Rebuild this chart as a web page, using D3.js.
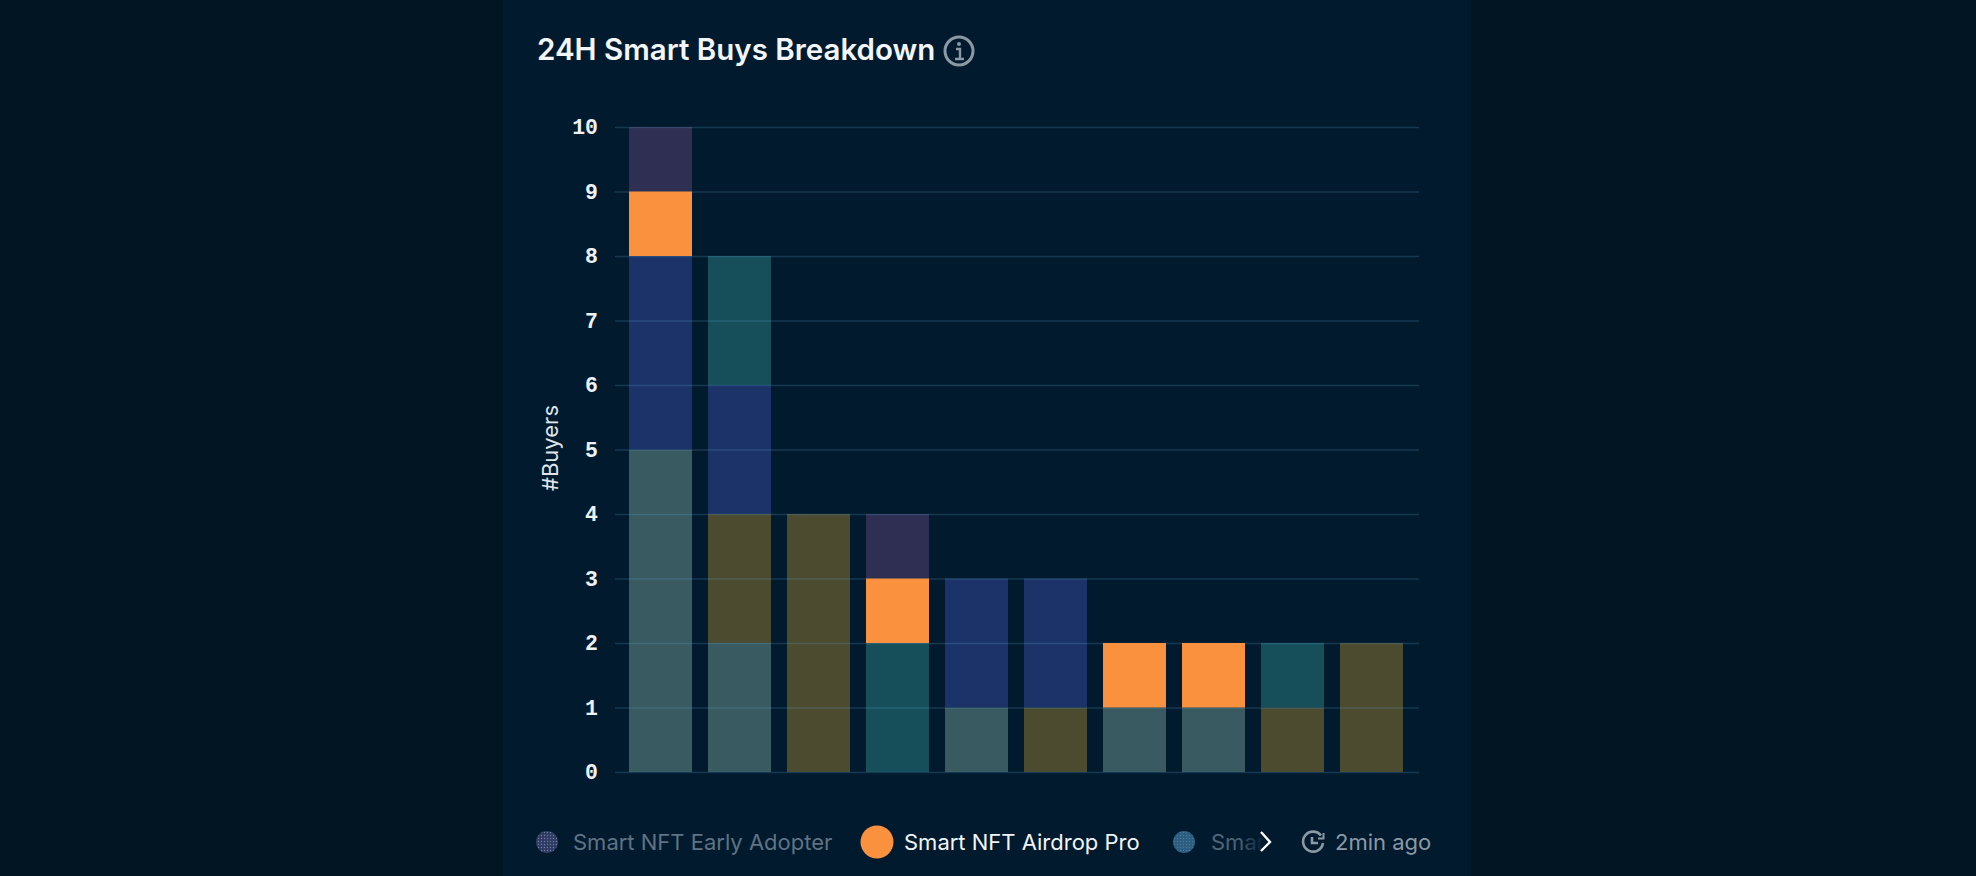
<!DOCTYPE html>
<html>
<head>
<meta charset="utf-8">
<script src="https://cdn.jsdelivr.net/npm/d3@7"></script>
<style>
    html, body { margin: 0; padding: 0; background: #011522; overflow: hidden; }
    svg { display: block; }
    text { font-family: Inter, sans-serif; }
</style>
</head>
<body>
<div id="chart"></div>
<script>
// one column per bar, the reference shows no x labels
const buckets = ["1", "2", "3", "4", "5", "6", "7", "8", "9", "10"];
const seriesKeys = ["grey", "olive", "navy", "teal", "orange", "purple"];

const greyValues   = [5, 2, 0, 0, 1, 0, 1, 1, 0, 0];
const oliveValues  = [0, 2, 4, 0, 0, 1, 0, 0, 1, 2];
const navyValues   = [3, 2, 0, 0, 2, 2, 0, 0, 0, 0];
const tealValues   = [0, 2, 0, 2, 0, 0, 0, 0, 1, 0];
const orangeValues = [1, 0, 0, 1, 0, 0, 1, 1, 0, 0];
const purpleValues = [1, 0, 0, 1, 0, 0, 0, 0, 0, 0];

const yTicks = [0, 1, 2, 3, 4, 5, 6, 7, 8, 9, 10];

const titleStr = "24H Smart Buys Breakdown";
const yLabelStr = "#Buyers";
const legendEarly = "Smart NFT Early Adopter";
const legendAirdrop = "Smart NFT Airdrop Pro";
const legendCut = "Smar";
const updatedStr = "2min ago";

const widthMax = 1976;
const heightMax = 876;

const colors = {
    grey: "#395a60",
    olive: "#4c4b2f",
    navy: "#1b3369",
    teal: "#164f5a",
    orange: "#f9913e",
    purple: "#2f2e53",
};

const rows = buckets.map((b, i) => ({
    bucket: b,
    grey: greyValues[i],
    olive: oliveValues[i],
    navy: navyValues[i],
    teal: tealValues[i],
    orange: orangeValues[i],
    purple: purpleValues[i],
}));

const svg = d3.select("#chart")
    .append("svg")
    .attr("width", widthMax)
    .attr("height", heightMax);

const defs = svg.append("defs");

// small dot texture on the dimmed legend markers
function addDots(id, base, dot) {
    const p = defs.append("pattern")
        .attr("id", id)
        .attr("width", 3)
        .attr("height", 3)
        .attr("patternUnits", "userSpaceOnUse");
    p.append("rect").attr("width", 3).attr("height", 3).attr("fill", base);
    p.append("circle").attr("cx", 1.5).attr("cy", 1.5).attr("r", 0.7).attr("fill", dot);
}
addDots("dotsEarly", "#2f3b60", "#6f7fa6");
addDots("dotsCut", "#2b5d80", "#4a7c98");

const fade = defs.append("linearGradient")
    .attr("id", "fadeCut")
    .attr("gradientUnits", "userSpaceOnUse")
    .attr("x1", 1211).attr("x2", 1264)
    .attr("y1", 0).attr("y2", 0);
fade.append("stop").attr("offset", "0%").attr("stop-color", "#51697c");
fade.append("stop").attr("offset", "55%").attr("stop-color", "#4a6175");
fade.append("stop").attr("offset", "100%").attr("stop-color", "#011a2e");

// panel
svg.append("rect")
    .attr("x", 503)
    .attr("y", 0)
    .attr("width", 968)
    .attr("height", heightMax)
    .attr("fill", "#011a2e");

// title + info icon
svg.append("text")
    .text(titleStr)
    .attr("x", 537)
    .attr("y", 60)
    .attr("font-size", "29.5px")
    .attr("font-weight", 600)
    .attr("fill", "#f3f6f9");

const info = svg.append("g").attr("transform", "translate(959,51)");
info.append("circle")
    .attr("r", 14)
    .attr("fill", "none")
    .attr("stroke", "#8c99a4")
    .attr("stroke-width", 3);
info.append("circle").attr("cy", -7).attr("r", 2).attr("fill", "#8c99a4");
info.append("path")
    .attr("d", "M-3,-2H1V7M-4,8H5")
    .attr("fill", "none")
    .attr("stroke", "#8c99a4")
    .attr("stroke-width", 2.4);

// scales
const x = d3.scaleBand()
    .domain(buckets)
    .range([621, 1411])
    .paddingInner(16 / 79)
    .paddingOuter(8 / 79);

const y = d3.scaleLinear()
    .domain([0, 10])
    .range([772, 127]);

const stacked = d3.stack().keys(seriesKeys)(rows);

const barLayer = svg.append("g").attr("id", "bars");

const seriesG = barLayer.selectAll("g")
    .data(stacked)
    .enter()
    .append("g")
    .attr("class", (d) => "series-" + d.key)
    .attr("fill", (d) => colors[d.key]);

seriesG.selectAll("rect")
    .data((d) => d.filter((v) => v[1] > v[0]))
    .enter()
    .append("rect")
    .attr("x", (d) => x(d.data.bucket))
    .attr("y", (d) => y(d[1]))
    .attr("width", x.bandwidth())
    .attr("height", (d) => y(d[0]) - y(d[1]));

// y axis, its tick lines are the grid and sit over the translucent looking bars
const yAxis = d3.axisLeft(y)
    .tickValues(yTicks)
    .tickFormat(d3.format("d"))
    .tickSize(-804)
    .tickPadding(17);

const yG = svg.append("g")
    .attr("transform", "translate(615,0)")
    .call(yAxis);

yG.select(".domain").remove();
yG.selectAll(".tick line")
    .attr("stroke", "#64aad2")
    .attr("stroke-opacity", 0.22)
    .attr("stroke-width", 1.5);
yG.selectAll(".tick text")
    .attr("fill", "#eef2f5")
    .style("font-family", "'Liberation Mono', monospace")
    .style("font-size", "21.5px")
    .style("font-weight", 700);

// orange is opaque in the reference, so no grid line on top of it
seriesG.filter((d) => d.key === "orange").each(function () {
    svg.node().appendChild(this);
});

svg.append("text")
    .text(yLabelStr)
    .attr("transform", "translate(558,448) rotate(-90)")
    .attr("text-anchor", "middle")
    .attr("font-size", "22px")
    .attr("fill", "#dfe5ea");

// legend strip
svg.append("circle").attr("cx", 547).attr("cy", 842).attr("r", 11).attr("fill", "url(#dotsEarly)");
svg.append("text")
    .text(legendEarly)
    .attr("x", 573).attr("y", 850)
    .attr("font-size", "22px")
    .attr("fill", "#5f7384");

svg.append("circle").attr("cx", 877).attr("cy", 842).attr("r", 16.5).attr("fill", colors.orange);
svg.append("text")
    .text(legendAirdrop)
    .attr("x", 904).attr("y", 850)
    .attr("font-size", "22px")
    .attr("fill", "#f1f4f7");

svg.append("circle").attr("cx", 1184).attr("cy", 842).attr("r", 11).attr("fill", "url(#dotsCut)");
svg.append("text")
    .text(legendCut)
    .attr("x", 1211).attr("y", 850)
    .attr("font-size", "22px")
    .attr("fill", "url(#fadeCut)");

svg.append("path")
    .attr("d", "M1261,832L1270,842L1261,851")
    .attr("fill", "none")
    .attr("stroke", "#ffffff")
    .attr("stroke-width", 2.4);

// refresh clock
const clock = svg.append("g")
    .attr("transform", "translate(1313,842)")
    .attr("fill", "none")
    .attr("stroke", "#8c99a4")
    .attr("stroke-width", 2.6);
clock.append("path").attr("d", "M8,-6.5A10,10 0 1,0 10,1");
clock.append("path").attr("d", "M-1,-5V1H5");
clock.append("path").attr("d", "M10.5,-9V-3.5H5").attr("stroke-width", 2);

svg.append("text")
    .text(updatedStr)
    .attr("x", 1335).attr("y", 850)
    .attr("font-size", "22px")
    .attr("fill", "#8c99a4");
</script>
</body>
</html>
